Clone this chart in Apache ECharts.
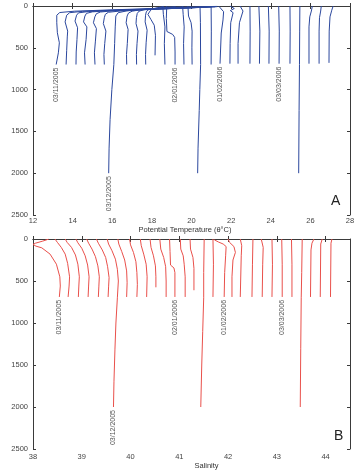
<!DOCTYPE html>
<html>
<head>
<meta charset="UTF-8">
<title>Theta / salinity profiles</title>
<script src="https://cdn.jsdelivr.net/npm/echarts@6/dist/echarts.min.js"></script>
<style>
    html, body { margin: 0; padding: 0; background: #ffffff; }
    #chart { width: 354px; height: 472px; }
</style>
</head>
<body>
<div id="chart"></div>
<script>
// one [value, pressure] list per cast, in date order, as plotted (each cast offset to the right)
var thetaProfiles = [
    [[21.3,4],[19.9,15],[18.4,27],[16.9,39],[15.4,51],[14.1,62],[13.35,78],[13.2,110],[13.2,200],[13.23,320],[13.33,440],[13.28,560],[13.17,700]],
    [[21.3,8],[19.9,19],[18.4,31],[16.9,43],[15.4,55],[14.5,64],[13.85,80],[13.7,110],[13.62,190],[13.75,300],[13.73,370],[13.7,530],[13.67,700]],
    [[21.2,10],[19.9,22],[18.4,34],[16.9,46],[15.5,57],[14.8,66],[14.3,82],[14.2,110],[14.12,180],[14.25,260],[14.22,400],[14.18,550],[14.17,700]],
    [[21.0,12],[19.7,24],[18.3,36],[16.9,48],[15.7,58],[15.0,70],[14.7,88],[14.62,120],[14.55,190],[14.72,250],[14.68,400],[14.6,560],[14.63,700]],
    [[20.8,13],[19.5,25],[18.2,37],[17.0,48],[16.0,58],[15.4,72],[15.2,92],[15.12,130],[15.05,200],[15.2,270],[15.15,420],[15.1,560],[15.13,700]],
    [[20.6,14],[19.4,26],[18.2,38],[17.2,48],[16.4,60],[15.8,75],[15.65,100],[15.6,140],[15.55,210],[15.68,300],[15.62,450],[15.58,580],[15.6,700]],
    [[20.3,14],[19.2,24],[18.2,34],[17.3,45],[16.7,60],[16.3,80],[16.18,120],[16.15,250],[16.12,450],[16.08,700],[15.98,1000],[15.89,1360],[15.84,1700],[15.82,2000]],
    [[20.0,12],[19.0,22],[18.1,33],[17.4,46],[17.0,62],[16.82,85],[16.75,120],[16.7,200],[16.8,280],[16.76,450],[16.72,580],[16.73,700]],
    [[19.6,10],[18.8,20],[18.1,31],[17.6,45],[17.35,62],[17.26,90],[17.22,140],[17.2,210],[17.3,300],[17.25,450],[17.22,580],[17.23,700]],
    [[19.2,8],[18.6,17],[18.1,30],[17.8,46],[17.72,70],[17.68,110],[17.66,190],[17.76,290],[17.71,440],[17.68,580],[17.69,700]],
    [[18.6,5],[18.3,20],[17.95,45],[17.8,100],[17.95,160],[18.12,230],[18.18,350],[18.16,590]],
    [[18.55,0],[18.58,100],[18.66,250],[18.63,450],[18.66,700]],
    [[18.75,0],[18.73,150],[18.76,305],[19.05,340],[19.15,375],[19.17,550],[19.17,700]],
    [[19.55,0],[19.58,100],[19.63,250],[19.6,450],[19.62,700]],
    [[19.82,0],[19.85,120],[19.98,200],[20.03,300],[20.02,500],[20.03,700]],
    [[20.43,0],[20.45,200],[20.46,700],[20.42,1000],[20.39,1250],[20.33,1700],[20.31,2000]],
    [[20.99,0],[21.0,300],[20.99,700]],
    [[21.37,0],[21.62,68],[21.59,167],[21.5,323],[21.44,690]],
    [[21.94,0],[22.16,30],[21.96,55],[22.1,80],[21.98,200],[21.95,450],[21.94,690]],
    [[22.45,0],[22.6,60],[22.42,200],[22.35,450],[22.35,690]],
    [[22.95,0],[22.96,300],[22.95,690]],
    [[23.4,0],[23.45,300],[23.43,690]],
    [[23.88,0],[23.92,300],[23.91,690]],
    [[24.4,0],[24.43,300],[24.42,690]],
    [[24.97,0],[24.98,300],[24.97,690]],
    [[25.47,0],[25.46,300],[25.45,700],[25.43,1250],[25.41,2000]],
    [[26.1,0],[26.05,60],[25.97,130],[25.93,250],[25.93,690]],
    [[26.55,0],[26.52,60],[26.46,140],[26.44,300],[26.44,690]],
    [[27.15,0],[27.08,50],[26.99,130],[26.95,300],[26.94,680]]
];

var salinityProfiles = [
    [[38.32,2],[38.2,25],[38.05,50],[38.0,65],[38.06,85],[38.18,105],[38.35,180],[38.48,300],[38.55,450],[38.56,560],[38.54,690]],
    [[38.45,0],[38.5,40],[38.58,100],[38.66,180],[38.71,290],[38.75,450],[38.74,560],[38.72,690]],
    [[38.66,0],[38.7,40],[38.79,100],[38.87,190],[38.92,300],[38.95,450],[38.94,560],[38.93,690]],
    [[38.88,0],[38.92,45],[39.0,110],[39.07,200],[39.12,310],[39.15,450],[39.14,560],[39.13,690]],
    [[39.1,0],[39.14,50],[39.21,120],[39.28,210],[39.33,320],[39.36,450],[39.35,570],[39.34,690]],
    [[39.3,0],[39.34,50],[39.42,130],[39.49,220],[39.53,330],[39.56,460],[39.55,570],[39.54,690]],
    [[39.52,0],[39.55,60],[39.62,140],[39.69,240],[39.73,360],[39.75,500],[39.73,700],[39.7,1000],[39.68,1320],[39.66,1700],[39.65,2000]],
    [[39.74,0],[39.76,60],[39.82,150],[39.88,250],[39.92,380],[39.93,520],[39.92,690]],
    [[39.98,0],[40.0,70],[40.06,160],[40.11,270],[40.13,400],[40.14,540],[40.13,690]],
    [[40.2,0],[40.22,80],[40.27,180],[40.32,300],[40.34,450],[40.33,690]],
    [[40.4,0],[40.42,100],[40.47,200],[40.51,320],[40.52,450],[40.52,575]],
    [[40.6,0],[40.62,120],[40.68,220],[40.72,330],[40.73,500],[40.73,690]],
    [[40.8,0],[40.81,150],[40.82,310],[40.89,345],[40.91,400],[40.91,690]],
    [[41.02,0],[41.03,120],[41.08,200],[41.1,300],[41.12,450],[41.12,690]],
    [[41.22,0],[41.23,120],[41.28,220],[41.3,350],[41.3,610]],
    [[41.51,0],[41.5,400],[41.5,700],[41.48,1100],[41.46,1500],[41.44,2000]],
    [[41.69,0],[41.7,300],[41.69,690]],
    [[41.72,10],[41.8,35],[41.9,60],[41.96,90],[41.95,200],[41.93,400],[41.92,690]],
    [[42.0,0],[42.03,40],[42.12,90],[42.15,160],[42.1,250],[42.08,450],[42.08,690]],
    [[42.25,0],[42.28,80],[42.27,200],[42.25,690]],
    [[42.51,0],[42.5,300],[42.49,690]],
    [[42.68,0],[42.72,100],[42.71,300],[42.7,690]],
    [[42.9,0],[42.91,300],[42.9,690]],
    [[43.1,0],[43.11,300],[43.11,690]],
    [[43.3,0],[43.31,300],[43.31,690]],
    [[43.52,0],[43.51,400],[43.5,700],[43.49,1300],[43.48,2000]],
    [[43.76,0],[43.72,50],[43.7,130],[43.69,690]],
    [[43.93,0],[43.9,60],[43.89,690]],
    [[44.13,0],[44.11,50],[44.1,690]]
];

var labelDates = ['03/11/2005', '03/12/2005', '02/01/2006', '01/02/2006', '03/03/2006'];
var labelCasts = [0, 6, 12, 17, 23];

var thetaRange = [12, 28, 2];
var salinityRange = [38, 44.5, 1];
var pressureRange = [0, 2500, 500];

var FONT = '"Liberation Sans", Arial, sans-serif';
var AXIS = '#3a3a3a';

var chart = echarts.init(document.getElementById('chart'), null, { renderer: 'canvas' });

function xAxes(range, grid, name, nameGap, namePad, margin) {
    var common = {
        type: 'value', gridIndex: grid, min: range[0], max: range[1], interval: range[2],
        splitLine: { show: false },
        axisLine: { show: true, lineStyle: { color: AXIS, width: 1 } },
        axisTick: { show: true, inside: true, length: 3, lineStyle: { color: AXIS } }
    };
    var bottom = Object.assign({}, common, {
        position: 'bottom',
        name: name, nameLocation: 'middle', nameGap: nameGap,
        nameTextStyle: { fontSize: 7.5, color: '#333', fontFamily: FONT, padding: namePad },
        axisLabel: { fontSize: 7.5, color: '#444', fontFamily: FONT, margin: margin, showMaxLabel: range[1] % range[2] === 0 }
    });
    var top = Object.assign({}, common, { position: 'top', axisLabel: { show: false } });
    return [bottom, top];
}

function yAxes(grid) {
    var common = {
        type: 'value', gridIndex: grid, min: pressureRange[0], max: pressureRange[1], interval: pressureRange[2],
        inverse: true,
        splitLine: { show: false },
        axisLine: { show: true, lineStyle: { color: AXIS, width: 1 } },
        axisTick: { show: true, inside: true, length: 3, lineStyle: { color: AXIS } }
    };
    var left = Object.assign({}, common, {
        position: 'left',
        name: 'Pressure (dbar)', nameLocation: 'middle', nameGap: 20,
        nameTextStyle: { fontSize: 7.5, color: '#333', fontFamily: FONT },
        axisLabel: {
            fontSize: 7.5, color: '#444', fontFamily: FONT, margin: 5,
            formatter: function (v) { return String(v); }
        }
    });
    var right = Object.assign({}, common, { position: 'right', axisLabel: { show: false } });
    return [left, right];
}

function profileSeries(profiles, color, grid) {
    return profiles.map(function (p) {
        return {
            type: 'line', xAxisIndex: grid * 2, yAxisIndex: grid * 2,
            data: p, showSymbol: false, symbol: 'none', silent: true,
            lineStyle: { color: color, width: 1 }
        };
    });
}

var option = {
    backgroundColor: '#ffffff',
    animation: false,
    grid: [
        { left: 33, top: 6, width: 317, height: 209, outerBoundsMode: 'none', containLabel: false },
        { left: 33, top: 239, width: 317, height: 210, outerBoundsMode: 'none', containLabel: false }
    ],
    xAxis: xAxes(thetaRange, 0, 'Potential Temperature (\u03b8\u00b0C)', 7, [0, 13, 0, 0], 2)
        .concat(xAxes(salinityRange, 1, 'Salinity', 10, [0, 0, 0, 30], 4)),
    yAxis: yAxes(0).concat(yAxes(1)),
    series: profileSeries(thetaProfiles, '#2b479d', 0)
        .concat(profileSeries(salinityProfiles, '#e9504b', 1))
};

chart.setOption(option);

// date tags hang under the end of the tagged casts, reading bottom to top
function dateTags(profiles, grid) {
    return labelCasts.map(function (c, i) {
        var p = profiles[c];
        var px = chart.convertToPixel({ xAxisIndex: grid * 2, yAxisIndex: grid * 2 }, p[p.length - 1]);
        return {
            type: 'text', x: px[0], y: px[1] + 3, rotation: Math.PI / 2, silent: true,
            style: {
                text: labelDates[i], fontSize: 7, fill: '#555', fontFamily: FONT,
                align: 'right', verticalAlign: 'middle'
            }
        };
    });
}

chart.setOption({
    graphic: dateTags(thetaProfiles, 0).concat(dateTags(salinityProfiles, 1)).concat([
        { type: 'text', left: 331, top: 194, style: { text: 'A', fontSize: 14, fill: '#222', fontFamily: FONT } },
        { type: 'text', left: 334, top: 429, style: { text: 'B', fontSize: 14, fill: '#222', fontFamily: FONT } }
    ])
});

window.addEventListener('resize', chart.resize);
</script>
</body>
</html>
